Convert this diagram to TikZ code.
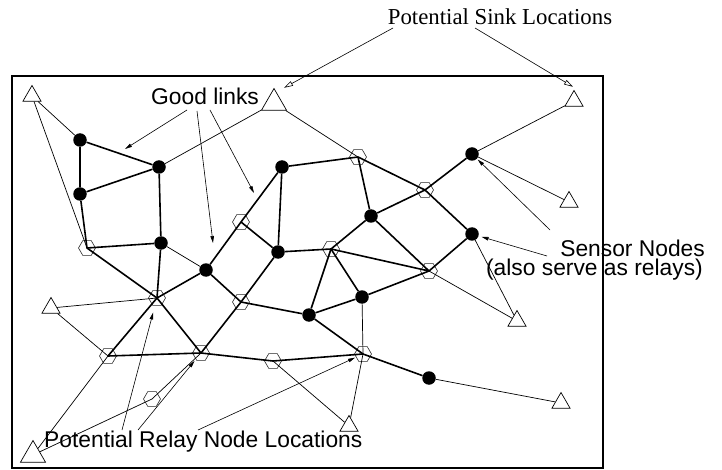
\documentclass[tikz,border=0pt]{standalone}
\usepackage{fontspec}
\setmainfont{Liberation Serif}
\setsansfont{Liberation Sans}
\usetikzlibrary{shapes.geometric,arrows.meta}

\tikzset{
  sensor/.style={circle,fill=black,inner sep=0pt,minimum size=13.5pt},
  relay/.style={regular polygon,regular polygon sides=6,draw=black!85,line width=0.6pt,inner sep=0pt,minimum size=17pt},
  sink/.style={regular polygon,regular polygon sides=3,draw,line width=0.7pt,inner sep=0pt,minimum size=21pt},
  bigsink/.style={sink,minimum size=29pt},
  good/.style={line width=1.6pt,line join=round},
  weak/.style={line width=0.7pt},
  pointer/.style={line width=0.6pt,-{Triangle[length=7pt,width=3.5pt]}},
  sinkpointer/.style={line width=0.6pt,-{Triangle[open,length=9pt,width=5pt]}},
  lbl/.style={inner sep=0pt,font=\sffamily\fontsize{22.8}{16}\selectfont},
}

\begin{document}
\begin{tikzpicture}[x=1pt,y=-1pt]
    \useasboundingbox (0,0) rectangle (722,470);

    % deployment area
    \draw[line width=1.6pt] (12,76) rectangle (603,468);

    % sensor nodes
    \node[sensor] (s1) at (80,140) {};
    \node[sensor] (s2) at (159,167) {};
    \node[sensor] (s3) at (80,194) {};
    \node[sensor] (s4) at (161,243) {};
    \node[sensor] (s5) at (206,270) {};
    \node[sensor] (s6) at (278,252) {};
    \node[sensor] (s7) at (282,167) {};
    \node[sensor] (s8) at (371,216) {};
    \node[sensor] (s9) at (472,154) {};
    \node[sensor] (s10) at (472,234) {};
    \node[sensor] (s11) at (362,297) {};
    \node[sensor] (s12) at (309,315) {};
    \node[sensor] (s13) at (429,378) {};

    % relay locations
    \node[relay] (r1) at (87,248) {};
    \node[relay] (r2) at (157,298) {};
    \node[relay] (r3) at (241,222) {};
    \node[relay] (r4) at (241,302) {};
    \node[relay] (r5) at (358,157) {};
    \node[relay] (r6) at (425,190) {};
    \node[relay] (r7) at (331,249) {};
    \node[relay] (r8) at (429,271) {};
    \node[relay] (r9) at (108,356) {};
    \node[relay] (r10) at (201,353) {};
    \node[relay] (r11) at (273,361) {};
    \node[relay] (r12) at (363,354) {};
    \node[relay] (r13) at (152,399) {};

    % sink locations
    \node[sink] (t1) at (32,96) {};
    \node[bigsink] (t2) at (274,103) {};
    \node[sink] (t3) at (574,101) {};
    \node[sink] (t4) at (569,202) {};
    \node[sink] (t5) at (517,321) {};
    \node[sink] (t6) at (561,403) {};
    \node[sink] (t7) at (349,426) {};
    \node[sink] (t8) at (51,308) {};
    \node[bigsink] (t9) at (33,455) {};

    % good links
    \draw[good] (s1) -- (s2) -- (s4) -- (r1.center) -- (s3) -- (s1);
    \draw[good] (s3) -- (s2);
    \draw[good] (r1.center) -- (r2.center) -- (s5) -- (r3.center) -- (s7) -- (s6) -- (r3.center);
    \draw[good] (s4) -- (r2.center) -- (r9.center) -- (r10.center) -- (r4.center) -- (s6)
        -- (r7.center) -- (s8) -- (r5.center) -- (s7);
    \draw[good] (r2.center) -- (r10.center) -- (r11.center) -- (r12.center) -- (s13);
    \draw[good] (s5) -- (r4.center) -- (s12) -- (s11) -- (r8.center) -- (s10) -- (r6.center) -- (r5.center);
    \draw[good] (s8) -- (r6.center) -- (s9);
    \draw[good] (s8) -- (r8.center) -- (r7.center) -- (s12) -- (r12.center);
    \draw[good] (r7.center) -- (s11);

    % other links
    \draw[weak] (s1) -- (t1) -- (r1.center);
    \draw[weak] (s2) -- (t2) -- (r5.center);
    \draw[weak] (t3) -- (s9) -- (t4);
    \draw[weak] (s10) -- (t5) -- (r8.center);
    \draw[weak] (s13) -- (t6);
    \draw[weak] (r2.center) -- (t8) -- (r9.center) -- (t9) -- (r13.center) -- (r10.center);
    \draw[weak] (r11.center) -- (t7) -- (r12.center) -- (s11);
    \draw[weak] (s4) -- (s5);

    % labels
    \node[lbl,font=\rmfamily\fontsize{22.8}{16}\selectfont,anchor=base] (sinklbl) at (500,25) {Potential Sink Locations};
    \node[lbl,anchor=base west] (goodlbl) at (151,105) {Good links};
    \node[lbl,anchor=base east] (sensorlbl) at (705,256) {Sensor Nodes};
    \node[lbl,anchor=base east] (sensorlbl2) at (703,275) {(also serve as relays)};
    \node[lbl,anchor=base west] (relaylbl) at (44,447) {Potential Relay Node Locations};

    %% pointer ends
    \coordinate (sk1) at (393,28);
    \coordinate (sk2) at (475,28);
    \coordinate (gl1) at (187,110);
    \coordinate (gl2) at (197,111);
    \coordinate (gl3) at (210,110);
    \coordinate (gt1) at (125,149);
    \coordinate (gt2) at (213,243);
    \coordinate (gt3) at (254,193);
    \coordinate (sn1) at (550,230);
    \coordinate (sn2) at (547,256);
    \coordinate (rl1) at (122,430);
    \coordinate (rl2) at (138,430);
    \coordinate (rl3) at (198,430);

    %% pointers
    \draw[sinkpointer] (sk1) -- ([xshift=10pt]t2.corner 1);
    \draw[sinkpointer] (sk2) -- ([shift={(-1pt,3pt)}]t3.corner 1);
    \draw[pointer] (gl1) -- (gt1);
    \draw[pointer] (gl2) -- (gt2);
    \draw[pointer] (gl3) -- (gt3);
    \draw[pointer,shorten >=1pt] (sn1) -- (s9);
    \draw[pointer,shorten >=3pt] (sn2) -- (s10);
    \draw[pointer,shorten >=7pt] (rl1) -- (r2);
    \draw[pointer,shorten >=2pt] (rl2) -- (r10);
    \draw[pointer,shorten >=1pt] (rl3) -- (r12);
\end{tikzpicture}
\end{document}
